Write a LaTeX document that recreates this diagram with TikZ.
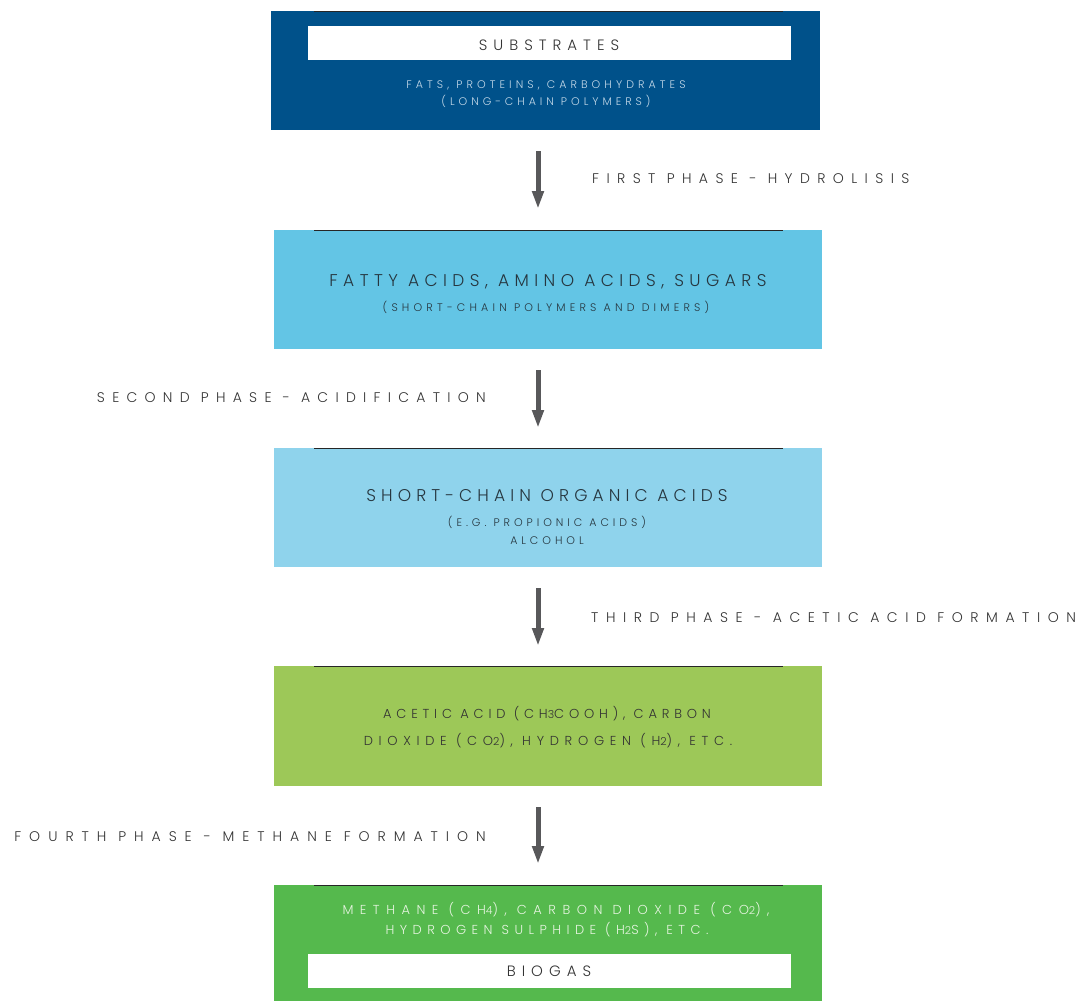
\documentclass[tikz,border=0pt]{standalone}
\usepackage{fontspec}
\setmainfont{Poppins Light}
\usetikzlibrary{arrows.meta}
\definecolor{boxA}{HTML}{00518A}
\definecolor{boxB}{HTML}{63C5E5}
\definecolor{boxC}{HTML}{8FD3EC}
\definecolor{boxD}{HTML}{9DC858}
\definecolor{boxE}{HTML}{55B94D}
\definecolor{arrowgray}{HTML}{58585A}
\definecolor{ink}{HTML}{333333}
\definecolor{inkblue}{HTML}{26363F}
\definecolor{paleblue}{HTML}{C3D8E8}
\definecolor{palegreen}{HTML}{E6F4E0}
% tracked capitals: size, tracking, text
\newcommand\trk[3]{\fontsize{#1}{#1}\selectfont\addfontfeatures{LetterSpace=#2}#3}
% small chemical index digit
\newcommand\ix[1]{{\fontsize{11}{11}\selectfont #1}}
\tikzset{
  stage/.style={fill=#1, draw=none},
  topline/.style={draw=black!85, line width=0.8pt},
  label/.style={anchor=base, inner sep=0pt, align=center},
  phase/.style={inner sep=0pt, text=ink},
  flow/.style={draw=arrowgray, line width=5pt, -{Triangle[width=11pt,length=18pt]}, shorten >=0pt},
}
\begin{document}
\begin{tikzpicture}[x=1pt,y=-1pt]
\useasboundingbox (0,0) rectangle (1082,1001);

% stage boxes
\fill[stage=boxA] (271,11) rectangle (820,130);
\fill[stage=boxB] (274,230) rectangle (822,349);
\fill[stage=boxC] (274,448) rectangle (822,567);
\fill[stage=boxD] (274,666) rectangle (822,786);
\fill[stage=boxE] (274,885) rectangle (822,1001);
\fill[white] (308,26) rectangle (791,60);
\fill[white] (308,954) rectangle (791,988);
\foreach \y in {11,230,448,666,885}
  \draw[topline] (314,\y) -- (783,\y);

% texts of the stages
\node[label, text=ink] (subs) at (549,50) {\trk{15}{40}{SUBSTRATES}};
\node[label, text=paleblue] (subs1) at (546,88) {\trk{11}{37}{FATS, PROTEINS, CARBOHYDRATES}};
\node[label, text=paleblue] (subs2) at (546,105) {\trk{11}{36}{(LONG-CHAIN POLYMERS)}};

\node[label, text=inkblue] (fat) at (548,286) {\trk{17}{32}{FATTY ACIDS, AMINO ACIDS, SUGARS}};
\node[label, text=inkblue] (fat2) at (546,311) {\trk{11}{38}{(SHORT-CHAIN POLYMERS AND DIMERS)}};

\node[label, text=inkblue] (sco) at (547,501) {\trk{17}{30}{SHORT-CHAIN ORGANIC ACIDS}};
\node[label, text=inkblue] (sco2) at (547,526) {\trk{11}{36}{(E.G. PROPIONIC ACIDS)}};
\node[label, text=inkblue] (sco3) at (547,544) {\trk{11}{36}{ALCOHOL}};

\node[label, text=ink] (ace1) at (547,718) {\trk{13}{37}{ACETIC ACID (CH\ix{3}COOH), CARBON}};
\node[label, text=ink] (ace2) at (548,745) {\trk{13}{44}{DIOXIDE (CO\ix{2}), HYDROGEN (H\ix{2}), ETC.}};

\node[label, text=palegreen] (met1) at (556,914) {\trk{13}{50}{METHANE (CH\ix{4}), CARBON DIOXIDE (CO\ix{2}),}};
\node[label, text=palegreen] (met2) at (547,934) {\trk{13}{42}{HYDROGEN SULPHIDE (H\ix{2}S), ETC.}};
\node[label, text=ink] (bio) at (549,976) {\trk{15}{40}{BIOGAS}};

% arrows between stages
\coordinate (a1) at (538,151); \coordinate (b1) at (538,209);
\coordinate (a2) at (538,370); \coordinate (b2) at (538,428);
\coordinate (a3) at (538,588); \coordinate (b3) at (538,646);
\coordinate (a4) at (538,807); \coordinate (b4) at (538,864);
\draw[flow] (a1) -- (b1);
\draw[flow] (a2) -- (b2);
\draw[flow] (a3) -- (b3);
\draw[flow] (a4) -- (b4);

% phase labels
\node[phase, anchor=base west] (p1) at (592,183) {\trk{14}{53}{FIRST PHASE - HYDROLISIS}};
\node[phase, anchor=base east] (p2) at (486,402) {\trk{14}{52}{SECOND PHASE - ACIDIFICATION}};
\node[phase, anchor=base west] (p3) at (591,622) {\trk{14}{54}{THIRD PHASE - ACETIC ACID FORMATION}};
\node[phase, anchor=base east] (p4) at (486,841) {\trk{14}{57}{FOURTH PHASE - METHANE FORMATION}};
\end{tikzpicture}
\end{document}
